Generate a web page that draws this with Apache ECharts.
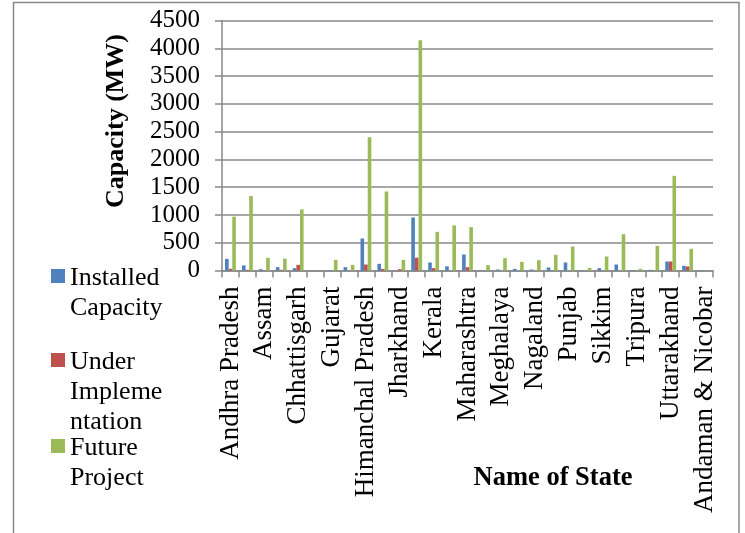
<!DOCTYPE html>
<html>
<head>
<meta charset="utf-8">
<script src="https://cdn.jsdelivr.net/npm/echarts@6/dist/echarts.min.js"></script>
<style>
  html, body { margin: 0; padding: 0; background: #fff; }
  #chart { width: 745px; height: 533px; }
</style>
</head>
<body>
<div id="chart"></div>
<script>
// Small hydro capacity by state (MW)
const states = [
  'Andhra Pradesh', 'Arunachal Pradesh', 'Assam', 'Bihar', 'Chhattisgarh', 'Goa',
  'Gujarat', 'Haryana', 'Himanchal Pradesh', 'Jammu & Kashmir', 'Jharkhand',
  'Karnataka', 'Kerala', 'Madhya Pradesh', 'Maharashtra', 'Manipur', 'Meghalaya',
  'Mizoram', 'Nagaland', 'Orissa', 'Punjab', 'Rajasthan', 'Sikkim', 'Tamil Nadu',
  'Tripura', 'Uttar Pradesh', 'Uttarakhand', 'West Bengal', 'Andaman & Nicobar'
];
const installed = [
  210, 92, 24, 60, 42, 1, 8, 60, 576, 120, 4,
  954, 144, 76, 288, 6, 18, 30, 18, 54, 144, 5, 42, 108,
  6, 12, 162, 84, 5
];
const underImpl = [
  30, 12, 2, 12, 102, 0, 0, 0, 108, 28, 24,
  230, 42, 0, 60, 0, 0, 0, 0, 0, 0, 0, 0, 0,
  0, 0, 162, 72, 0
];
const future = [
  968, 1340, 228, 214, 1100, 0, 192, 102, 2400, 1422, 192,
  4146, 696, 812, 780, 96, 222, 156, 186, 282, 432, 48, 252, 654,
  30, 444, 1704, 390, 0
];
const yTicks = { min: 0, max: 4500, step: 500 };

const seriesNames = ['Installed Capacity', 'Under Implementation', 'Future Project'];
const seriesColors = ['#4F81BD', '#C0504D', '#9BBB59'];
const legendLines = [['Installed', 'Capacity'], ['Under', 'Impleme', 'ntation'], ['Future', 'Project']];

const serif = '"Liberation Serif", "Times New Roman", serif';
const gray = '#898989';

const chart = echarts.init(document.getElementById('chart'), null, { renderer: 'canvas' });

// legend drawn as graphic blocks: swatch + wrapped label
const legendTops = [263, 347, 433];
const legendGraphics = [];
legendLines.forEach((lines, i) => {
  legendGraphics.push({
    type: 'rect',
    shape: { x: 51, y: legendTops[i] + 6, width: 14, height: 14 },
    style: { fill: seriesColors[i] }
  });
  legendGraphics.push({
    type: 'text',
    x: 70, y: legendTops[i],
    style: {
      text: lines.join('\n'),
      font: '26px ' + serif,
      lineHeight: 30,
      fill: '#000',
      textVerticalAlign: 'top'
    }
  });
});

chart.setOption({
  animation: false,
  backgroundColor: '#fff',
  grid: { left: 222, top: 20.5, right: 32, bottom: 262.5, containLabel: false },
  xAxis: {
    type: 'category',
    data: states,
    boundaryGap: true,
    axisLine: { show: true, lineStyle: { color: gray, width: 1.5 } },
    axisTick: { show: true, interval: 0, length: 7, lineStyle: { color: gray, width: 1.5 } },
    axisLabel: {
      interval: 1,
      rotate: 90,
      margin: 16,
      color: '#000',
      fontFamily: serif,
      fontSize: 27
    },
    splitLine: { show: false }
  },
  yAxis: {
    type: 'value',
    min: yTicks.min,
    max: yTicks.max,
    interval: yTicks.step,
    axisLine: { show: true, lineStyle: { color: gray, width: 1.5 } },
    axisTick: { show: true, length: 7, lineStyle: { color: gray, width: 1.5 } },
    axisLabel: {
      margin: 22,
      color: '#000',
      fontFamily: serif,
      fontSize: 25,
      formatter: v => String(v)
    },
    splitLine: { show: true, lineStyle: { color: gray, width: 1.5 } }
  },
  series: [installed, underImpl, future].map((d, i) => ({
    name: seriesNames[i],
    type: 'bar',
    data: d,
    barGap: '0%',
    barCategoryGap: '36%',
    itemStyle: { color: seriesColors[i] }
  })),
  graphic: [
    // outer frame
    {
      type: 'polyline',
      shape: { points: [[13.5, 533], [13.5, 2.5], [739, 2.5], [739, 533]] },
      style: { stroke: gray, lineWidth: 1.5, fill: null }
    },
    {
      type: 'text',
      x: 116, y: 121,
      rotation: Math.PI / 2,
      style: {
        text: 'Capacity (MW)',
        font: 'bold 26px ' + serif,
        fill: '#000',
        textAlign: 'center',
        textVerticalAlign: 'middle'
      }
    },
    {
      type: 'text',
      x: 553, y: 478,
      style: {
        text: 'Name of State',
        font: 'bold 26.5px ' + serif,
        fill: '#000',
        textAlign: 'center',
        textVerticalAlign: 'middle'
      }
    }
  ].concat(legendGraphics)
});
</script>
</body>
</html>
